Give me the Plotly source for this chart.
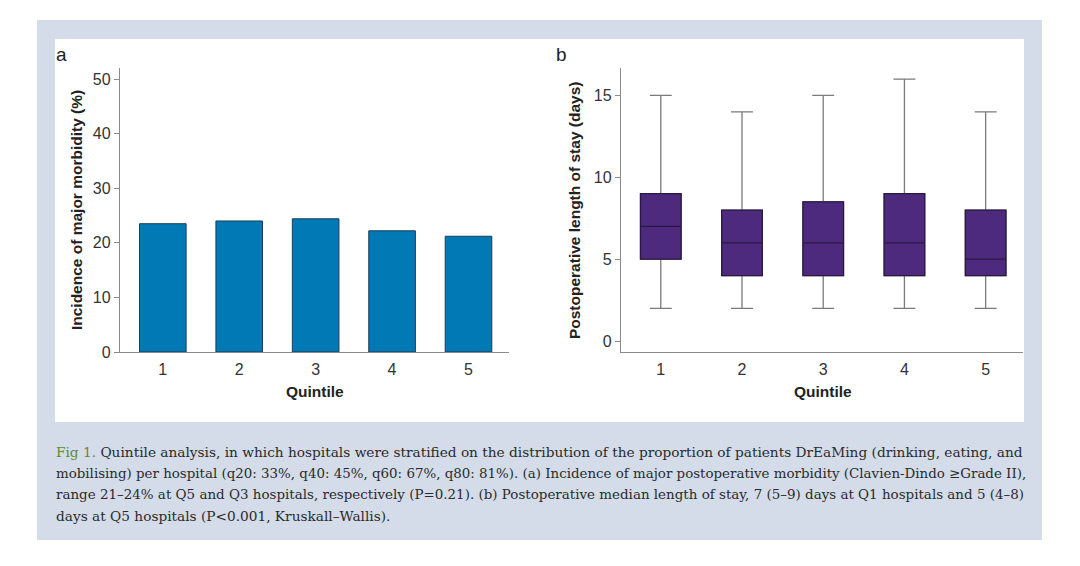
import plotly.graph_objects as go

# data
quintiles = [1, 2, 3, 4, 5]
morbidity = [23.5, 24.0, 24.4, 22.2, 21.2]

los_q1 = [5, 4, 4, 4, 4]
los_median = [7, 6, 6, 6, 5]
los_q3 = [9, 8, 8.5, 9, 8]
los_low = [2, 2, 2, 2, 2]
los_high = [15, 14, 15, 16, 14]

caption_lines = [
    "<span style='color:#5e8a3a'>Fig 1.</span> Quintile analysis, in which hospitals were stratified on the distribution of the proportion of patients DrEaMing (drinking, eating, and",
    "mobilising) per hospital (q20: 33%, q40: 45%, q60: 67%, q80: 81%). (a) Incidence of major postoperative morbidity (Clavien-Dindo ≥Grade II),",
    "range 21–24% at Q5 and Q3 hospitals, respectively (P=0.21). (b) Postoperative median length of stay, 7 (5–9) days at Q1 hospitals and 5 (4–8)",
    "days at Q5 hospitals (P<0.001, Kruskall–Wallis).",
]
# the printed caption is justified, so squeeze the longer lines a touch
caption_sizes = [13.7, 13.4, 13.45, 13.7]

# page body keeps its 8px margin; the snapshot also comes out a little squashed vertically
OFF = 8
SY = 0.984
W, H = 1080 - 2 * OFF, 550
SANS = "Liberation Sans, Arial, sans-serif"
SERIF = "DejaVu Serif, serif"


def px(x):
    return (x - OFF) / W


def py(y):
    return 1 - (y / SY - OFF) / H


fig = go.Figure()

# panel a: bars
fig.add_trace(go.Bar(
    x=quintiles, y=morbidity, width=0.61,
    marker=dict(color="#0079b4", line=dict(color="#1d3d55", width=1)),
    xaxis="x", yaxis="y", showlegend=False,
))

# panel b: whiskers (gray) then boxes (dark outline)
fig.add_trace(go.Box(
    x=quintiles, q1=los_q1, median=los_median, q3=los_q3,
    lowerfence=los_low, upperfence=los_high,
    width=0.5, whiskerwidth=0.54,
    fillcolor="#4e2a7e", line=dict(color="#7a7a7a", width=1.3),
    xaxis="x2", yaxis="y2", showlegend=False,
))
fig.add_trace(go.Box(
    x=quintiles, q1=los_q1, median=los_median, q3=los_q3,
    lowerfence=los_q1, upperfence=los_q3,
    width=0.5, whiskerwidth=0,
    fillcolor="#4e2a7e", line=dict(color="#2a1842", width=1.3),
    xaxis="x2", yaxis="y2", showlegend=False,
))

axis_common = dict(
    showgrid=False, zeroline=False, showline=True,
    linecolor="#8a8a8a", linewidth=1.3,
    tickfont=dict(family=SANS, size=16, color="#333333"),
)

fig.update_layout(
    width=W, height=H,
    margin=dict(l=0, r=0, t=0, b=0),
    paper_bgcolor="white", plot_bgcolor="rgba(0,0,0,0)",
    boxmode="overlay",
    xaxis=dict(domain=[px(120), px(509)], range=[0.44, 5.53],
               tickvals=quintiles, ticks="outside", ticklen=3,
               tickcolor="rgba(0,0,0,0)", anchor="y", **axis_common),
    yaxis=dict(domain=[py(352), py(68)], range=[0, 52],
               tickvals=[0, 10, 20, 30, 40, 50], ticks="outside",
               ticklen=5, tickcolor="#8a8a8a", ticksuffix=" ",
               anchor="x", **axis_common),
    xaxis2=dict(domain=[px(621), px(1023)], range=[0.51, 5.46],
                tickvals=quintiles, ticks="outside", ticklen=3,
                tickcolor="rgba(0,0,0,0)", anchor="y2", **axis_common),
    yaxis2=dict(domain=[py(352), py(68)], range=[-0.67, 16.67],
                tickvals=[0, 5, 10, 15], ticks="outside",
                ticklen=5, tickcolor="#8a8a8a", ticksuffix=" ",
                anchor="x2", **axis_common),
)

# backgrounds
fig.add_shape(type="rect", xref="paper", yref="paper", layer="below",
              x0=px(37), x1=px(1042), y0=py(540), y1=py(20),
              fillcolor="#d3dce8", line_width=0)
fig.add_shape(type="rect", xref="paper", yref="paper", layer="below",
              x0=px(55), x1=px(1024), y0=py(422), y1=py(39),
              fillcolor="white", line_width=0)


def label(text, x, y, font, angle=0, xanchor="center"):
    fig.add_annotation(text=text, x=px(x), y=py(y), xref="paper", yref="paper",
                       xanchor=xanchor, yanchor="middle", textangle=angle,
                       showarrow=False, font=font)


# axis titles and panel letters
title_font = dict(family=SANS, size=15.5, color="#222222")
letter_font = dict(family=SANS, size=19, color="#222222")
label("<b>Incidence of major morbidity (%)</b>", 76, 210, title_font, angle=-90)
label("<b>Postoperative length of stay (days)</b>", 574, 210, title_font, angle=-90)
label("<b>Quintile</b>", 315, 392, title_font)
label("<b>Quintile</b>", 823, 392, title_font)
label("a", 61, 54, letter_font)
label("b", 561, 54, letter_font)

# caption
for i, (line, size) in enumerate(zip(caption_lines, caption_sizes)):
    label(line, 54, 452 + i * 21.5,
          dict(family=SERIF, size=size, color="#2b2b2b"), xanchor="left")

fig.write_html("out.html")
